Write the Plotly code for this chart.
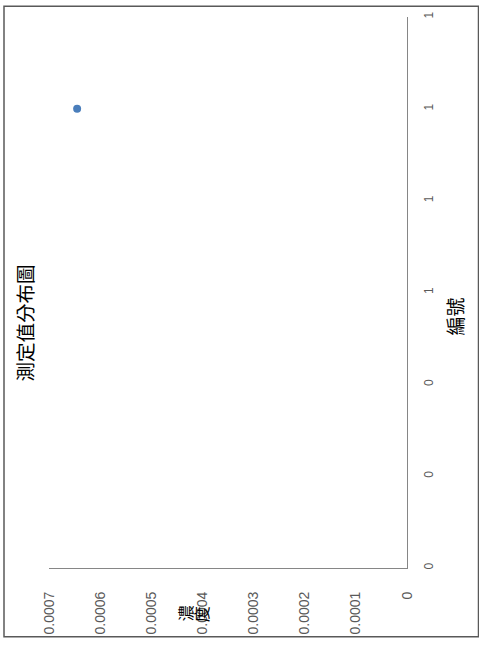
import plotly.graph_objects as go

# data
id_values = [1.0]
conc_values = [0.000645]

conc_ticks = [0, 0.0001, 0.0002, 0.0003, 0.0004, 0.0005, 0.0006, 0.0007]
conc_labels = ["0", "0.0001", "0.0002", "0.0003", "0.0004", "0.0005", "0.0006", "0.0007"]
id_ticks = [0, 0.2, 0.4, 0.6, 0.8, 1.0, 1.2]
id_labels = ["0", "0", "0", "1", "1", "1", "1"]

title_text = "測定值分布圖"
x_title = "編號"
y_title = ["濃", "度"]

W, H = 479, 646
L, R, T, B = 49, 72, 13, 72
pw, ph = W - L - R, H - T - B


def px(x):
    return (x - L) / pw


def py(y):
    return (H - B - y) / ph


fig = go.Figure()
fig.add_trace(go.Scatter(
    x=conc_values, y=id_values, mode="markers",
    marker=dict(color="#4A7EBB", size=8),
    showlegend=False,
))

fig.update_layout(
    width=W, height=H,
    margin=dict(l=L, r=R, t=T, b=B),
    paper_bgcolor="white", plot_bgcolor="white",
    font=dict(family="Liberation Sans, Arial, sans-serif"),
    xaxis=dict(
        range=[0.0007, 0], tickvals=conc_ticks, ticktext=conc_labels,
        tickangle=-90, showgrid=False, zeroline=False,
        showline=True, linecolor="#868686", linewidth=1,
        tickfont=dict(size=14, color="#595959"),
        ticks="", ticklabelstandoff=17,
    ),
    yaxis=dict(
        range=[0, 1.2], tickvals=id_ticks, ticktext=id_labels,
        side="right", tickangle=-90, showgrid=False, zeroline=False,
        showline=True, linecolor="#868686", linewidth=1,
        tickfont=dict(size=12, color="#595959"),
        ticks="", ticklabelstandoff=11,
    ),
)

cjk = "Noto Sans CJK TC, sans-serif"
annots = [
    dict(text=title_text, x=px(24), y=py(325), size=19.5),
    dict(text=x_title, x=px(455), y=py(318), size=19),
    dict(text=y_title[0], x=px(185), y=py(620), size=16),
    dict(text=y_title[1], x=px(201), y=py(621), size=16),
]
for a in annots:
    fig.add_annotation(
        text=a["text"], x=a["x"], y=a["y"], xref="paper", yref="paper",
        showarrow=False, textangle=-90,
        font=dict(family=cjk, size=a["size"], color="#000000"),
        xanchor="center", yanchor="middle",
    )

fig.add_shape(
    type="rect", xref="paper", yref="paper",
    x0=px(4), x1=px(478.5), y0=py(644), y1=py(2),
    line=dict(color="#595959", width=1.5), fillcolor="rgba(0,0,0,0)",
    layer="below",
)

fig.write_html(
    "out.html",
    config={"displayModeBar": False},
    default_width="479px",
    default_height="646px",
    post_script=(
        "document.documentElement.style.margin='0';"
        "document.documentElement.style.overflow='hidden';"
        "document.body.style.margin='0';"
        "document.body.style.overflow='hidden';"
        "document.body.style.height='646px';"
    ),
)
